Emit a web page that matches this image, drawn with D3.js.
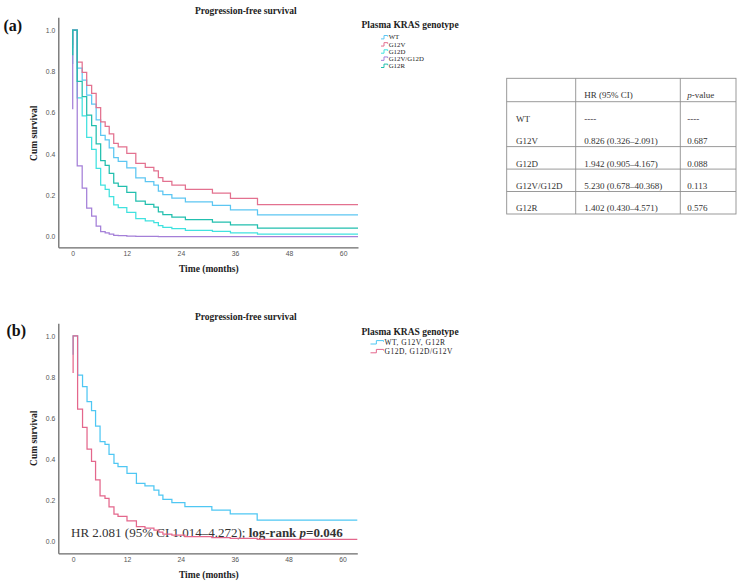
<!DOCTYPE html>
<html><head><meta charset="utf-8">
<script src="https://cdn.jsdelivr.net/npm/d3@7"></script>
<style>
html,body{margin:0;padding:0;background:#fff;}
svg{display:block;}
</style></head>
<body>
<svg id="chart" width="742" height="586"></svg>
<script>
// ---------------- DATA ----------------
const xTicks = [0, 12, 24, 36, 48, 60];
const yTicks = [0.0, 0.2, 0.4, 0.6, 0.8, 1.0];

// Panel (a): Cox-adjusted PFS by plasma KRAS genotype
const seriesNamesA = ["WT", "G12V", "G12D", "G12V/G12D", "G12R"];
const stepTimesA = [1.0, 2.1, 3.1, 4.2, 5.2, 6.2, 7.2, 8.1, 9.1, 10.1, 12.0, 14.0, 16.1, 18.0, 19.0, 20.0, 22.0, 25.0, 31.0, 35.0, 41.0];
const startValuesA = [0.912, 0.927, 0.836, 0.617, 0.878];
const wtA    = [0.815, 0.758, 0.685, 0.642, 0.565, 0.490, 0.468, 0.430, 0.382, 0.365, 0.333, 0.285, 0.266, 0.250, 0.220, 0.203, 0.187, 0.168, 0.152, 0.130, 0.105];
const g12vA  = [0.845, 0.795, 0.732, 0.693, 0.624, 0.555, 0.534, 0.498, 0.452, 0.435, 0.403, 0.355, 0.335, 0.318, 0.286, 0.268, 0.250, 0.229, 0.211, 0.185, 0.155];
const g12dA  = [0.672, 0.584, 0.480, 0.423, 0.330, 0.250, 0.229, 0.194, 0.154, 0.141, 0.118, 0.087, 0.076, 0.068, 0.053, 0.045, 0.039, 0.031, 0.026, 0.019, 0.013];
const g12vdA = [0.343, 0.235, 0.138, 0.099, 0.051, 0.024, 0.019, 0.012, 0.007, 0.005, 0.003, 0.001, 0.001, 0.001, 0.000, 0.000, 0.000, 0.000, 0.000, 0.000, 0.000];
const g12rA  = [0.751, 0.678, 0.588, 0.537, 0.449, 0.368, 0.345, 0.306, 0.259, 0.243, 0.214, 0.172, 0.156, 0.143, 0.120, 0.107, 0.095, 0.082, 0.071, 0.057, 0.042];
const colorsA = ["#5cc6f2", "#e3718f", "#40e2df", "#a47fd8", "#22bfae"];

// Panel (b): grouped genotypes
const seriesNamesB = ["WT, G12V, G12R", "G12D, G12D/G12V"];
const stepTimesB = [1.0, 2.1, 3.1, 4.1, 5.0, 6.0, 7.1, 8.0, 9.1, 10.0, 12.0, 14.1, 16.0, 18.0, 19.1, 20.0, 22.0, 24.9, 30.9, 35.0, 41.0];
const startValuesB = [0.909, 0.820];
const groupLowB  = [0.810, 0.754, 0.681, 0.637, 0.562, 0.486, 0.473, 0.425, 0.381, 0.365, 0.332, 0.284, 0.271, 0.251, 0.227, 0.206, 0.190, 0.170, 0.154, 0.135, 0.105];
const groupHighB = [0.645, 0.556, 0.450, 0.391, 0.301, 0.223, 0.211, 0.169, 0.134, 0.123, 0.101, 0.073, 0.066, 0.056, 0.046, 0.037, 0.032, 0.025, 0.020, 0.016, 0.011];
const colorsB = ["#4fc7f3", "#e4678c"];

// Table
const tableHeader = ["", "HR (95% CI)", "p-value"];
const tableGenotypes = ["WT", "G12V", "G12D", "G12V/G12D", "G12R"];
const tableHR = ["----", "0.826 (0.326–2.091)", "1.942 (0.905–4.167)", "5.230 (0.678–40.368)", "1.402 (0.430–4.571)"];
const tablePval = ["----", "0.687", "0.088", "0.113", "0.576"];

// ---------------- DRAW ----------------
const svg = d3.select("#chart");
const SERIF = "'Liberation Serif', 'Times New Roman', serif";
const SANS = "'Liberation Sans', Arial, sans-serif";

function drawPanel(cfg) {
  const g = svg.append("g");
  const x = d3.scaleLinear().domain(cfg.xDomain).range(cfg.xRange);
  const y = d3.scaleLinear().domain(cfg.yDomain).range(cfg.yRange);

  // axes
  const xAxis = d3.axisBottom(x).tickValues(xTicks).tickSize(0).tickPadding(4).tickFormat(d3.format("d"));
  const yAxis = d3.axisLeft(y).tickValues(yTicks).tickSize(0).tickPadding(3).tickFormat(d3.format(".1f"));
  const gx = g.append("g").attr("transform", `translate(0,${cfg.yRange[0]})`).call(xAxis);
  const gy = g.append("g").attr("transform", `translate(${cfg.xRange[0]},0)`).call(yAxis);
  [gx, gy].forEach(a => {
    a.select(".domain").attr("stroke", "#6a6a6a").attr("stroke-width", 1.3);
    a.selectAll("text").attr("font-family", SANS).attr("font-size", 6.8).attr("fill", "#555");
  });

  // annotation text (under curves)
  if (cfg.annotation) cfg.annotation(g, x, y);

  // curves
  const line = d3.line().x(d => x(d[0])).y(d => y(d[1])).curve(d3.curveStepAfter);
  cfg.series.forEach((vals, i) => {
    const pts = [[0, cfg.starts[i]], [0, 1.0]];
    cfg.times.forEach((t, k) => pts.push([t, vals[k]]));
    pts.push([cfg.xDomain[1], vals[vals.length - 1]]);
    g.append("path").attr("d", line(pts)).attr("fill", "none")
      .attr("stroke", cfg.colors[i]).attr("stroke-width", 1.25);
  });

  // titles
  g.append("text").attr("x", cfg.titleX).attr("y", cfg.titleY).attr("text-anchor", "middle")
    .attr("font-family", SERIF).attr("font-weight", "bold").attr("font-size", 9.5).attr("fill", "#222")
    .text("Progression-free survival");
  g.append("text").attr("x", cfg.titleX - 37).attr("y", cfg.xTitleY).attr("text-anchor", "middle")
    .attr("font-family", SERIF).attr("font-weight", "bold").attr("font-size", 9.5).attr("fill", "#222")
    .text("Time (months)");
  g.append("text").attr("transform", `translate(36.5,${cfg.yTitleY}) rotate(-90)`).attr("text-anchor", "middle")
    .attr("font-family", SERIF).attr("font-weight", "bold").attr("font-size", 9.5).attr("fill", "#222")
    .text("Cum survival");
  g.append("text").attr("x", cfg.labelX).attr("y", cfg.labelY)
    .attr("font-family", SERIF).attr("font-weight", "bold").attr("font-size", 16).attr("fill", "#111")
    .text(cfg.label);

  // legend
  const lg = g.append("g");
  lg.append("text").attr("x", 361.5).attr("y", cfg.legTitleY)
    .attr("font-family", SERIF).attr("font-weight", "bold").attr("font-size", 9.5).attr("fill", "#222")
    .text("Plasma KRAS genotype");
  cfg.names.forEach((n, i) => {
    const cy = cfg.legY0 + i * cfg.legStep;
    const sx = cfg.symX, w = cfg.symW, h = cfg.symH;
    lg.append("path")
      .attr("d", `M${sx},${cy + h / 2} H${sx + w * 0.45} V${cy - h / 2} H${sx + w} V${cy - h / 6}`)
      .attr("fill", "none").attr("stroke", cfg.colors[i]).attr("stroke-width", 1);
    lg.append("text").attr("x", sx + w + 1).attr("y", cy + cfg.legFont * 0.33)
      .attr("font-family", SERIF).attr("font-size", cfg.legFont).attr("fill", "#222")
      .attr("letter-spacing", cfg.legSpacing || 0).text(n);
  });
}

drawPanel({
  xDomain: [-3.2, 63.3], xRange: [58.3, 358],
  yDomain: [-0.0513, 1.0615], yRange: [247.3, 17.3],
  times: stepTimesA, starts: startValuesA,
  series: [wtA, g12vA, g12dA, g12vdA, g12rA],
  colors: colorsA, names: seriesNamesA,
  titleX: 245.8, titleY: 14.3, xTitleY: 272.3, yTitleY: 133.3,
  label: "(a)", labelX: 3.5, labelY: 30.5,
  legTitleY: 28.2, legY0: 37.2, legStep: 7.15, symX: 381, symW: 6.7, symH: 3.4, legFont: 6.8
});

drawPanel({
  xDomain: [-3.3, 63.3], xRange: [58.3, 357.3],
  yDomain: [-0.0564, 1.0617], yRange: [553.3, 323.3],
  times: stepTimesB, starts: startValuesB,
  series: [groupLowB, groupHighB],
  colors: colorsB, names: seriesNamesB,
  titleX: 245.8, titleY: 320, xTitleY: 578.3, yTitleY: 438.3,
  label: "(b)", labelX: 6.5, labelY: 335.5,
  legTitleY: 334.6, legY0: 342.3, legStep: 8.8, symX: 370.5, symW: 13, symH: 3.4, legFont: 7.5, legSpacing: 0.5,
  annotation: (g, x, y) => {
    const t = g.append("text").attr("x", 71).attr("y", 537.3)
      .attr("font-family", SERIF).attr("font-size", 13).attr("fill", "#333");
    t.append("tspan").text("HR 2.081 (95% CI 1.014–4.272); ");
    t.append("tspan").attr("font-weight", "bold").text("log-rank ");
    t.append("tspan").attr("font-weight", "bold").attr("font-style", "italic").text("p");
    t.append("tspan").attr("font-weight", "bold").text("=0.046");
  }
});

// ---------------- TABLE ----------------
const colX = [506.7, 575.7, 680.3, 736];
const rowY = [78.3, 101.7, 124.2, 146.6, 169.1, 191.5, 214];
const tg = svg.append("g");
const border = "#8f8f8f";
tg.append("rect").attr("x", colX[0]).attr("y", rowY[0]).attr("width", colX[3] - colX[0]).attr("height", rowY[6] - rowY[0])
  .attr("fill", "none").attr("stroke", border).attr("stroke-width", 0.9);
[colX[1], colX[2]].forEach(cx => tg.append("line").attr("x1", cx).attr("x2", cx).attr("y1", rowY[0]).attr("y2", rowY[6])
  .attr("stroke", border).attr("stroke-width", 0.9));
[rowY[1], rowY[3], rowY[4], rowY[5]].forEach(ry => tg.append("line").attr("x1", colX[0]).attr("x2", colX[3]).attr("y1", ry).attr("y2", ry)
  .attr("stroke", border).attr("stroke-width", 0.9));
const textX = [516, 584.3, 687.3];
function cellText(x, y, s) {
  return tg.append("text").attr("x", x).attr("y", y).attr("font-family", SERIF).attr("font-size", 9).attr("fill", "#333").text(s);
}
cellText(textX[1], rowY[1] - 3.4, tableHeader[1]);
const pv = tg.append("text").attr("x", textX[2]).attr("y", rowY[1] - 3.4).attr("font-family", SERIF).attr("font-size", 9).attr("fill", "#333");
pv.append("tspan").attr("font-style", "italic").text("p");
pv.append("tspan").text("-value");
tableGenotypes.forEach((gname, i) => {
  const by = rowY[i + 2] - 2.6;
  cellText(textX[0], by, gname);
  cellText(textX[1], by, tableHR[i]);
  cellText(textX[2], by, tablePval[i]);
});
</script>
</body></html>
